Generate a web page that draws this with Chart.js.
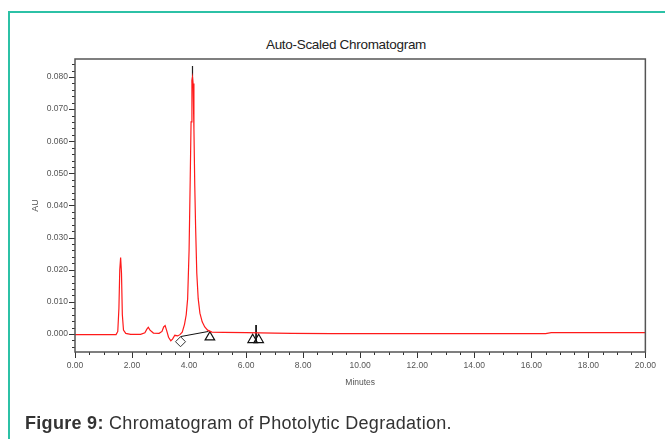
<!DOCTYPE html>
<html>
<head>
<meta charset="utf-8">
<script src="https://cdn.jsdelivr.net/npm/chart.js@4/dist/chart.umd.min.js"></script>
<style>
  body { margin: 0; background: #fff; }
  #page { position: relative; width: 665px; height: 439px; overflow: hidden; font-family: "Liberation Sans", Arial, sans-serif; }
  .teal-top { position: absolute; left: 8px; top: 11px; width: 657px; height: 2px; background: #2cc1a6; }
  .teal-left { position: absolute; left: 8px; top: 11px; width: 2px; height: 428px; background: #2cc1a6; }
  #title { position: absolute; top: 37px; left: 226px; width: 240px; text-align: center; font-size: 13.5px; color: #222; letter-spacing: -0.3px; }
  #caption { position: absolute; left: 25px; top: 413px; font-size: 18px; color: #333; letter-spacing: 0.3px; }
  #chartBox { position: absolute; left: 0; top: 0; width: 665px; height: 439px; }
</style>
</head>
<body>
<div id="page">
  <div class="teal-top"></div>
  <div class="teal-left"></div>
  <div id="title">Auto-Scaled Chromatogram</div>
  <div id="chartBox"><canvas id="chrom" width="665" height="439"></canvas></div>
  <div id="caption"><b>Figure 9:</b> Chromatogram of Photolytic Degradation.</div>
</div>
<script>
// trace (minutes, AU)
const minutes = [0, 1.44, 1.50, 1.54, 1.57, 1.60, 1.63, 1.66, 1.70, 1.78, 1.95, 2.30, 2.45, 2.52, 2.57, 2.63, 2.75, 2.95,
  3.05, 3.11, 3.16, 3.21, 3.28, 3.36, 3.42, 3.50, 3.60, 3.68, 3.76, 3.84, 3.90, 3.95, 4.00, 4.04, 4.07, 4.10, 4.12,
  4.14, 4.17, 4.20, 4.23, 4.27, 4.32, 4.38, 4.46, 4.55, 4.65, 4.80, 5.20, 6.00, 7.00, 7.60, 9.00, 12.00, 14.00,
  16.50, 16.70, 18.00, 20.00];
const absorbance = [-0.0002, -0.0002, 0.0008, 0.0080, 0.0200, 0.0238, 0.0190, 0.0060, 0.0012, 0.0002, -0.0001, -0.0001,
  0.0004, 0.0015, 0.0021, 0.0012, 0.0003, 0.0002, 0.0008, 0.0022, 0.0026, 0.0012, -0.0010, -0.0021, -0.0016, -0.0004,
  -0.0006, -0.0002, 0.0006, 0.0030, 0.0060, 0.0110, 0.0260, 0.0480, 0.0660, 0.0790, 0.0800, 0.0780, 0.0640, 0.0460,
  0.0330, 0.0190, 0.0110, 0.0065, 0.0038, 0.0022, 0.0012, 0.0006, 0.0005, 0.0004, 0.0003, 0.0002, 0.0001, 0.0001,
  0.0001, 0.0001, 0.0004, 0.0004, 0.0004];

// integration markers
const peakStart = [{ x: 3.70, y: -0.0024 }];
const peakEnds = [{ x: 4.73, y: -0.0010 }, { x: 6.23, y: -0.0018 }, { x: 6.44, y: -0.0018 }];
const baselineDrop = [{ x: 3.70, y: -0.0008 }, { x: 4.68, y: 0.0008 }];
const apexMark = [{ x: 4.12, y: 0.0782 }, { x: 4.12, y: 0.0834 }];
const splitMark = [{ x: 6.35, y: 0.0028 }, { x: 6.35, y: -0.0027 }];

const xTicks = [0, 2, 4, 6, 8, 10, 12, 14, 16, 18, 20];
const yTicks = [0, 0.01, 0.02, 0.03, 0.04, 0.05, 0.06, 0.07, 0.08];

const tracePoints = minutes.map((t, i) => ({ x: t, y: absorbance[i] }));

// box round the plot plus long/short tick marks
const framePlugin = {
  id: "frame",
  afterDraw(chart) {
    const { ctx, chartArea: a, scales } = chart;
    ctx.save();
    ctx.strokeStyle = "#333";
    ctx.lineWidth = 1;
    for (let v = 0; v <= 20.001; v += 0.5) {
      const px = Math.round(scales.x.getPixelForValue(v)) + 0.5;
      const len = Math.abs(v % 2) < 0.01 ? 6 : 3;
      ctx.beginPath();
      ctx.moveTo(px, a.bottom);
      ctx.lineTo(px, a.bottom + len);
      ctx.stroke();
    }
    for (let k = -2; k <= 42; k++) {
      const v = k * 0.002;
      const py = Math.round(scales.y.getPixelForValue(v)) + 0.5;
      if (py < a.top || py > a.bottom) continue;
      const len = k % 5 === 0 ? 6 : 3;
      ctx.beginPath();
      ctx.moveTo(a.left, py);
      ctx.lineTo(a.left - len, py);
      ctx.stroke();
    }
    ctx.strokeStyle = "#555";
    ctx.lineWidth = 1.5;
    ctx.strokeRect(a.left, a.top, a.right - a.left, a.bottom - a.top);
    ctx.restore();
  }
};

const ctx = document.getElementById("chrom").getContext("2d");
new Chart(ctx, {
  type: "scatter",
  data: {
    datasets: [
      { data: tracePoints, showLine: true, borderColor: "#ff1a1a", borderWidth: 1.2, pointRadius: 0, tension: 0 },
      { data: baselineDrop, showLine: true, borderColor: "#111", borderWidth: 1, pointRadius: 0 },
      { data: apexMark, showLine: true, borderColor: "#222", borderWidth: 1.2, pointRadius: 0 },
      { data: splitMark, showLine: true, borderColor: "#111", borderWidth: 1, pointRadius: 0 },
      { data: peakStart, pointStyle: "rectRot", pointRadius: 5, borderColor: "#333", borderWidth: 1, backgroundColor: "rgba(0,0,0,0)" },
      { data: peakEnds, pointStyle: "triangle", pointRadius: 5.5, borderColor: "#111", borderWidth: 1.2, backgroundColor: "rgba(0,0,0,0)" }
    ]
  },
  options: {
    responsive: false,
    animation: false,
    events: [],
    layout: { padding: { top: 59, right: 18, left: 30, bottom: 51 } },
    plugins: { legend: { display: false }, tooltip: { enabled: false } },
    scales: {
      x: {
        type: "linear", min: 0, max: 20,
        grid: { display: false, drawTicks: false },
        border: { display: false },
        afterBuildTicks: s => { s.ticks = xTicks.map(v => ({ value: v })); },
        afterFit: s => { s.height = 36; },
        ticks: { padding: 9, color: "#555", font: { size: 8.5, family: "Liberation Sans" }, maxRotation: 0, callback: v => v.toFixed(2) },
        title: { display: true, text: "Minutes", color: "#555", padding: 0, font: { size: 8.5, family: "Liberation Sans" } }
      },
      y: {
        type: "linear", min: -0.0056, max: 0.0856,
        grid: { display: false, drawTicks: false },
        border: { display: false },
        afterBuildTicks: s => { s.ticks = yTicks.map(v => ({ value: v })); },
        afterFit: s => { s.width = 45; },
        ticks: { padding: 7, color: "#555", font: { size: 8.5, family: "Liberation Sans" }, callback: v => v.toFixed(3) },
        title: { display: true, text: "AU", color: "#555", padding: 0, font: { size: 9, family: "Liberation Sans" } }
      }
    }
  },
  plugins: [framePlugin]
});
</script>
</body>
</html>
